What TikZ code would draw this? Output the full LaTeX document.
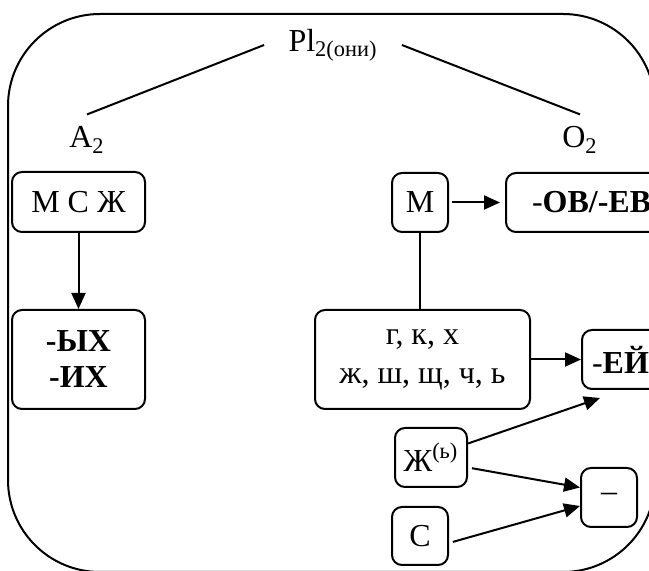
\documentclass[tikz,border=0pt]{standalone}
\usepackage{fontspec}
\setmainfont{Liberation Serif}
\usetikzlibrary{positioning, arrows.meta}

\begin{document}
\begin{tikzpicture}[
    x=0.5pt, y=-0.5pt,
    >={Triangle[length=8pt, width=7pt]},
    every node/.style={font=\fontsize{16}{19.5}\selectfont},
    box/.style={draw, line width=1pt, rounded corners=5pt, align=center, minimum height=29.5pt},
    ending/.style={box, font=\fontsize{16}{18}\selectfont\bfseries},
    lbl/.style={inner sep=6pt},
    arrow/.style={->, line width=1pt},
    link/.style={line width=1pt},
]
\useasboundingbox (0,0) rectangle (649,571);
\clip (0,0) rectangle (649,571);

% ── Outer frame ──
\draw[line width=1pt, rounded corners=46pt] (8,14) rectangle (655,572);

% ── Head and the two classes ──
\node[lbl, inner xsep=12pt] (pl) at (333,45) {Pl\textsubscript{2(они)}};
\node[lbl] (a2) at (87,140) {A\textsubscript{2}};
\node[lbl] (o2) at (580,140) {O\textsubscript{2}};

% ── Class A ──
\node[box, minimum width=66.5pt, minimum height=30pt] (msj) at (78.5,202) {М С Ж};
\node[ending, minimum width=66.5pt, minimum height=49.5pt] (ykh) at (78.5,359.5) {-ЫХ\\-ИХ};

% ── Class O ──
\node[box, minimum width=28pt] (masc) at (420,202.5) {М};
\node[box, anchor=west, inner xsep=13pt] (ovev) at (505,202.5) {-\textbf{ОВ/-ЕВ}};

\node[box, minimum width=107.5pt, minimum height=49.5pt] (stems) at (422.5,359.5)
    {г, к, х\\ж, ш, щ, ч, ь};
\node[box, anchor=west, inner xsep=5pt] (ej) at (581,359.5) {-\textbf{ЕЙ}};

\node[box, minimum width=36pt] (fem) at (431,457.5) {Ж\textsuperscript{(ь)}};
\node[box, minimum width=28pt, minimum height=29pt] (neut) at (420,536) {С};
\node[box, minimum width=28pt] (zero) at (609,497.5) {–};

% ── Connectors ──
\draw[link] (pl.west) -- (a2.north);
\draw[link] (pl.east) -- (o2.north);

\draw[arrow] (msj) -- (ykh);

\draw[arrow, shorten <=1.5pt, shorten >=2.5pt] (masc) -- (ovev);
\draw[link] (masc) -- (masc |- stems.north);
\draw[arrow] (stems) -- (ej);

\draw[arrow] ([yshift=7pt]fem.east) -- ([xshift=9.5pt, yshift=-4pt]ej.south west);
\draw[arrow, shorten <=2pt] ([yshift=-5pt]fem.east) -- ([yshift=5pt]zero.west);
\draw[arrow, shorten <=2pt] ([yshift=-3.5pt]neut.east) -- ([yshift=-4.25pt]zero.west);

\end{tikzpicture}
\end{document}
